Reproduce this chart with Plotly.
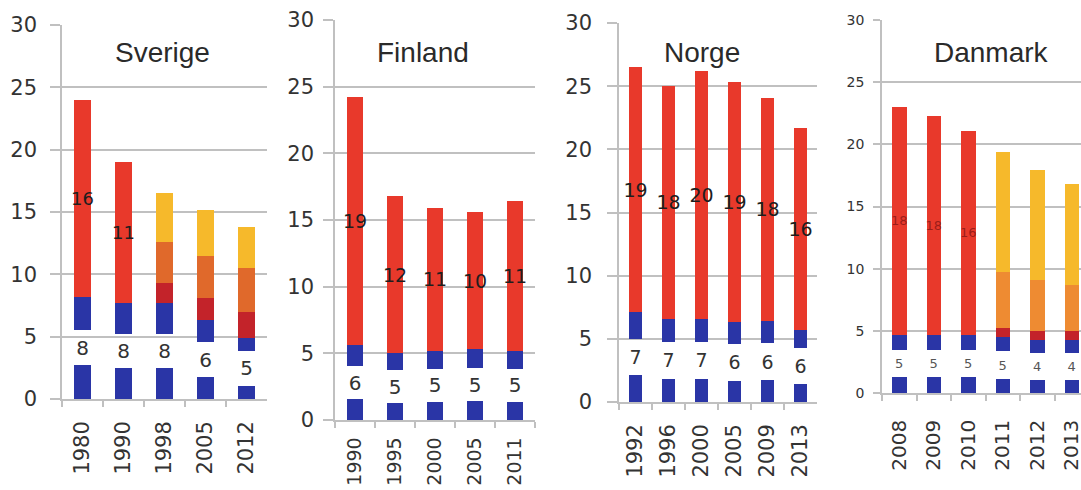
import math
import plotly.graph_objects as go

# ---- data -------------------------------------------------------------
sverige_years = ["1980", "1990", "1998", "2005", "2012"]
sverige_blue = [8.2, 7.7, 7.7, 6.3, 4.9]
sverige_red = [15.8, 11.3, None, None, None]
sverige_darkred = [None, None, 1.6, 1.8, 2.1]
sverige_orange = [None, None, 3.3, 3.4, 3.5]
sverige_yellow = [None, None, 3.9, 3.7, 3.3]

finland_years = ["1990", "1995", "2000", "2005", "2011"]
finland_blue = [5.6, 5.0, 5.2, 5.3, 5.2]
finland_red = [18.6, 11.8, 10.7, 10.3, 11.2]

norge_years = ["1992", "1996", "2000", "2005", "2009", "2013"]
norge_blue = [7.1, 6.6, 6.6, 6.3, 6.4, 5.7]
norge_red = [19.4, 18.4, 19.6, 19.0, 17.7, 16.0]

danmark_years = ["2008", "2009", "2010", "2011", "2012", "2013"]
danmark_blue = [4.7, 4.7, 4.7, 4.5, 4.3, 4.3]
danmark_red = [18.3, 17.6, 16.4, None, None, None]
danmark_darkred = [None, None, None, 0.7, 0.7, 0.7]
danmark_orange = [None, None, None, 4.5, 4.1, 3.7]
danmark_yellow = [None, None, None, 9.7, 8.8, 8.1]

y_ticks = [0, 5, 10, 15, 20, 25, 30]

# ---- style ------------------------------------------------------------
W, H = 1081, 490
BLUE = "#2a35a6"
RED = "#e8392b"
DARKRED = "#c3232a"
YELLOW = "#f6b92b"
GRID = "#c0c0c0"
FONT = "DejaVu Sans"
TITLE_FONT = "Liberation Sans"


def rnd(v):
    return "" if v is None else str(int(math.floor(v + 0.5)))


def half(b, g):
    return None if b is None else (b - g) / 2


panels = [
    dict(name="Sverige", years=sverige_years, blue=sverige_blue, red=sverige_red,
         darkred=sverige_darkred, orange=sverige_orange, yellow=sverige_yellow,
         x0=62, x1=267, y0=399, y1=25, cats=5, gap=2.8, orange_c="#e0692b",
         tick_font=21, ticklen=10, standoff=9, lab_font=20, red_font=18,
         red_col="#1e1e1e", lab_col="#333333", title_x=162, xmax=None,
         xfont=21, xstand=12),
    dict(name="Finland", years=finland_years, blue=finland_blue, red=finland_red,
         x0=335, x1=535, y0=420, y1=20, cats=5, gap=2.5, orange_c="#e0692b",
         tick_font=21, ticklen=10, standoff=5, lab_font=20, red_font=19,
         red_col="#1e1e1e", lab_col="#333333", title_x=423, xmax=None,
         xfont=19, xstand=8),
    dict(name="Norge", years=norge_years, blue=norge_blue, red=norge_red,
         x0=619, x1=817, y0=402, y1=23, cats=6, gap=2.9, orange_c="#e0692b",
         tick_font=21, ticklen=10, standoff=11, lab_font=19, red_font=19,
         red_col="#1e1e1e", lab_col="#333333", title_x=702, xmax=None,
         xfont=21, xstand=12),
    dict(name="Danmark", years=danmark_years, blue=danmark_blue, red=danmark_red,
         darkred=danmark_darkred, orange=danmark_orange, yellow=danmark_yellow,
         x0=882, x1=1081, y0=393, y1=20, cats=6, gap=2.2, orange_c="#ee8b32",
         tick_font=14, ticklen=7, standoff=6, lab_font=13, red_font=13,
         red_col="rgba(130,20,20,0.75)", lab_col="#555555", title_x=991,
         xmax=-0.5 + 199 / 34.5, xfont=20, xstand=17),
]

fig = go.Figure()
layout = dict(
    width=W, height=H, margin=dict(l=0, r=0, t=0, b=0, autoexpand=False),
    paper_bgcolor="white", plot_bgcolor="white",
    barmode="stack", bargap=0.58, showlegend=False,
    annotations=[],
)

for i, p in enumerate(panels):
    n = "" if i == 0 else str(i + 1)
    xa, ya = "x" + n, "y" + n
    g = p["gap"]
    yrs = p["years"]
    common = dict(x=yrs, xaxis=xa, yaxis=ya, marker_line_width=0,
                  hoverinfo="skip", textangle=0, constraintext="none",
                  textposition="inside", insidetextanchor="middle")

    # blue bar, split around its value label
    fig.add_trace(go.Bar(y=[half(b, g) for b in p["blue"]],
                         marker_color=BLUE, **common))
    fig.add_trace(go.Bar(y=[g for _ in p["blue"]], marker_color="rgba(0,0,0,0)",
                         text=[rnd(b) for b in p["blue"]],
                         textfont=dict(family=FONT, size=p["lab_font"], color=p["lab_col"]),
                         **common))
    fig.add_trace(go.Bar(y=[half(b, g) for b in p["blue"]],
                         marker_color=BLUE, **common))
    # red segment with its value
    fig.add_trace(go.Bar(y=p["red"], marker_color=RED,
                         text=[rnd(v) for v in p["red"]],
                         textfont=dict(family=FONT, size=p["red_font"], color=p["red_col"]),
                         **common))
    # split segments for later years
    if "darkred" in p:
        fig.add_trace(go.Bar(y=p["darkred"], marker_color=DARKRED, **common))
        fig.add_trace(go.Bar(y=p["orange"], marker_color=p["orange_c"], **common))
        fig.add_trace(go.Bar(y=p["yellow"], marker_color=YELLOW, **common))

    xmax = p["xmax"] if p["xmax"] is not None else p["cats"] - 0.5
    layout["xaxis" + n] = dict(
        domain=[p["x0"] / W, min(p["x1"] / W, 1.0)], anchor=ya,
        range=[-0.5, xmax], type="category", automargin=False,
        showline=True, linecolor=GRID, linewidth=1.5,
        ticks="outside", tickson="boundaries", ticklen=6, tickcolor=GRID,
        tickwidth=1.5, tickangle=-90, ticklabelstandoff=p["xstand"],
        tickfont=dict(family=FONT, size=p["xfont"], color="#333333"),
        showgrid=False, zeroline=False, fixedrange=True,
    )
    layout["yaxis" + n] = dict(
        domain=[1 - p["y0"] / H, 1 - p["y1"] / H], anchor=xa,
        range=[0, 30], tickvals=y_ticks, automargin=False,
        showline=True, linecolor=GRID, linewidth=1.5,
        ticks="outside", ticklen=p["ticklen"], tickcolor=GRID, tickwidth=1.5,
        ticklabelstandoff=p["standoff"],
        tickfont=dict(family=FONT, size=p["tick_font"], color="#333333"),
        showgrid=True, gridcolor=GRID, gridwidth=1.5, zeroline=False,
        fixedrange=True,
    )
    layout["annotations"].append(dict(
        text=p["name"], xref="paper", yref="paper",
        x=p["title_x"] / W, y=1 - 53 / H, xanchor="center", yanchor="middle",
        showarrow=False, font=dict(family=TITLE_FONT, size=28, color="#2a2a2a"),
    ))

fig.update_layout(**layout)
fig.write_html("out.html")
